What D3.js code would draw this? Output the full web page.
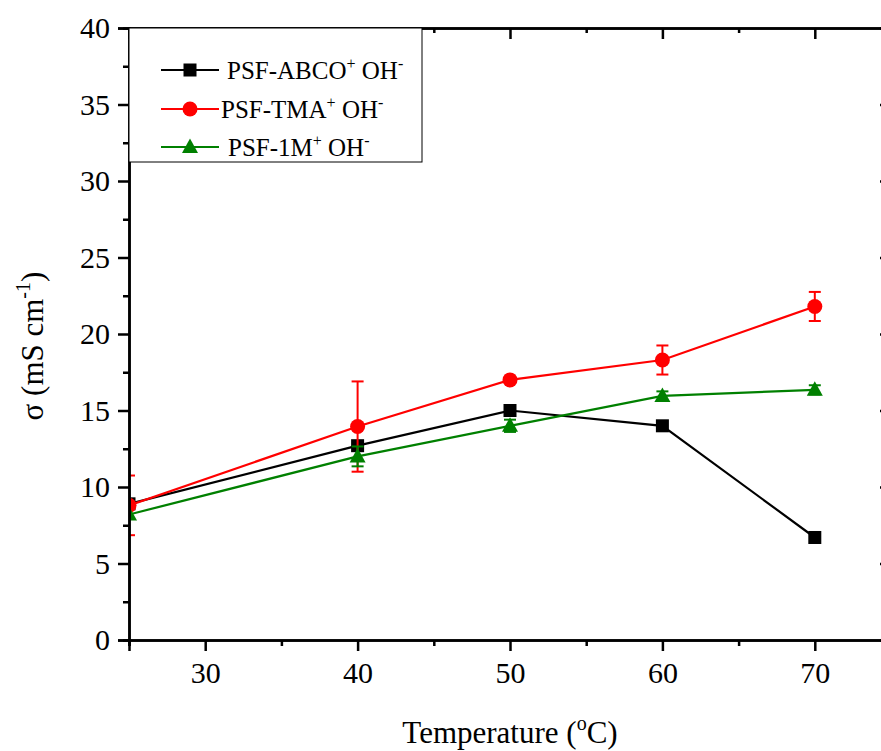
<!DOCTYPE html>
<html>
<head>
<meta charset="utf-8">
<script src="https://cdn.jsdelivr.net/npm/d3@7"></script>
<style>
  body { margin: 0; background: #fff; }
  svg { display: block; }
  text { font-family: "Liberation Serif", serif; }
</style>
</head>
<body>
<svg id="chart" width="881" height="751"></svg>
<script>
// data
const temps = [25, 40, 50, 60, 70];
const abcoVals = [8.9, 12.7, 15.0, 14.0, 6.7];
const abcoErr = [0, 0, 0, 0, 0];
const tmaVals = [8.8, 13.95, 17.0, 18.3, 21.8];
const tmaErr = [1.95, 2.95, 0, 0.95, 0.95];
const mVals = [8.2, 12.0, 14.0, 15.95, 16.35];
const mErr = [0, 0.65, 0.4, 0.3, 0.3];
const seriesNames = ["PSF-ABCO", "PSF-TMA", "PSF-1M"];
const seriesColors = ["#000000", "#ff0000", "#008000"];
const seriesShapes = ["square", "circle", "triangle"];
const xTicks = [30, 40, 50, 60, 70];
const yTicks = [0, 5, 10, 15, 20, 25, 30, 35, 40];

const FONT = "Liberation Serif";

const series = seriesNames.map((name, i) => ({
    name,
    color: seriesColors[i],
    shape: seriesShapes[i],
    values: temps.map((t, j) => ({
        t,
        v: [abcoVals, tmaVals, mVals][i][j],
        e: [abcoErr, tmaErr, mErr][i][j]
    }))
}));

const margin = { top: 28, right: -10, bottom: 111, left: 129 };
const W = 881, H = 751;
const width = W - margin.left - margin.right;
const height = H - margin.top - margin.bottom;

const svg = d3.select("#chart");
const g = svg.append("g").attr("transform", `translate(${margin.left},${margin.top})`);

const x = d3.scaleLinear().domain([25, 75]).range([0, width]);
const y = d3.scaleLinear().domain([0, 40]).range([height, 0]);

g.append("defs").append("clipPath").attr("id", "plotClip")
    .append("rect").attr("x", 0).attr("y", 0).attr("width", width).attr("height", height);

const plot = g.append("g").attr("clip-path", "url(#plotClip)");

function drawMarker(sel, shape, color) {
    if (shape === "square") {
        sel.append("rect").attr("x", -6.5).attr("y", -6.5).attr("width", 13).attr("height", 13).attr("fill", color);
    } else if (shape === "circle") {
        sel.append("circle").attr("r", 7.5).attr("fill", color);
    } else {
        sel.append("path").attr("d", "M0,-8.5L8,6L-8,6Z").attr("fill", color);
    }
}

const line = d3.line().x(d => x(d.t)).y(d => y(d.v));

series.forEach(s => {
    plot.append("path")
        .datum(s.values)
        .attr("fill", "none")
        .attr("stroke", s.color)
        .attr("stroke-width", 2.2)
        .attr("d", line);

    s.values.filter(d => d.e > 0).forEach(d => {
        const eg = plot.append("g").attr("stroke", s.color).attr("stroke-width", 2);
        eg.append("line").attr("x1", x(d.t)).attr("x2", x(d.t)).attr("y1", y(d.v - d.e)).attr("y2", y(d.v + d.e));
        [d.v - d.e, d.v + d.e].forEach(v => {
            eg.append("line").attr("x1", x(d.t) - 6).attr("x2", x(d.t) + 6).attr("y1", y(v)).attr("y2", y(v));
        });
    });

    s.values.forEach(d => {
        const m = plot.append("g").attr("transform", `translate(${x(d.t)},${y(d.v)})`);
        drawMarker(m, s.shape, s.color);
    });
});

// axes
const majorX = xTicks, minorX = d3.range(25, 76, 5).filter(v => v % 10 !== 0);
const minorY = d3.range(2.5, 40, 5);

g.append("g").attr("transform", `translate(0,${height})`)
    .call(d3.axisBottom(x).tickValues(majorX).tickSize(11).tickPadding(11).tickFormat(d3.format("d")));
g.append("g").attr("transform", `translate(0,${height})`)
    .call(d3.axisBottom(x).tickValues(minorX).tickSize(6).tickFormat(""));

g.append("g")
    .call(d3.axisLeft(y).tickValues(yTicks).tickSize(11).tickPadding(8));
g.append("g").call(d3.axisLeft(y).tickValues(minorY).tickSize(6).tickFormat(""));

g.append("g").call(d3.axisTop(x).tickValues(majorX).tickSize(-11).tickFormat(""));
g.append("g").call(d3.axisTop(x).tickValues(minorX).tickSize(-5).tickFormat(""));
g.append("g").attr("transform", `translate(${width},0)`)
    .call(d3.axisRight(y).tickValues(yTicks).tickSize(-11).tickFormat(""));
g.append("g").attr("transform", `translate(${width},0)`)
    .call(d3.axisRight(y).tickValues(minorY).tickSize(-5).tickFormat(""));

g.selectAll(".domain").attr("stroke", "#000").attr("stroke-width", 2.5);
g.selectAll(".tick line").attr("stroke", "#000").attr("stroke-width", 2.5);
g.selectAll(".tick text")
    .attr("fill", "#000")
    .style("font-family", "'Liberation Serif', serif")
    .style("font-size", "30px");

// axis titles
const xt = svg.append("text")
    .attr("x", 510).attr("y", 743)
    .attr("text-anchor", "middle")
    .attr("font-family", FONT)
    .attr("font-size", 31);
xt.append("tspan").text("Temperature (");
xt.append("tspan").attr("dy", -13).attr("font-size", 20).text("o");
xt.append("tspan").attr("dy", 13).text("C)");

const yt = svg.append("text")
    .attr("transform", "translate(43,346) rotate(-90)")
    .attr("text-anchor", "middle")
    .attr("font-family", FONT)
    .attr("font-size", 31);
yt.append("tspan").text("σ (mS cm");
yt.append("tspan").attr("dy", -13).attr("font-size", 20).text("-1");
yt.append("tspan").attr("dy", 13).text(")");

// legend
const legend = g.append("g");
legend.append("rect")
    .attr("x", 0).attr("y", 0)
    .attr("width", 293).attr("height", 134)
    .attr("fill", "#fff").attr("stroke", "#000").attr("stroke-width", 1);

const legendRows = [42, 81, 119];
const textX = [98, 92, 99];
series.forEach((s, i) => {
    const row = legend.append("g").attr("transform", `translate(0,${legendRows[i]})`);
    row.append("line").attr("x1", 32).attr("x2", 90).attr("y1", 0).attr("y2", 0)
        .attr("stroke", s.color).attr("stroke-width", 2);
    const m = row.append("g").attr("transform", "translate(61,0)");
    drawMarker(m, s.shape, s.color);
    const t = row.append("text").attr("x", textX[i]).attr("y", 9)
        .attr("font-family", FONT).attr("font-size", 25);
    t.append("tspan").text(s.name);
    t.append("tspan").attr("dy", -10).attr("font-size", 16).text("+");
    t.append("tspan").attr("dy", 10).text(" OH");
    t.append("tspan").attr("dy", -10).attr("font-size", 16).text("-");
});
</script>
</body>
</html>
